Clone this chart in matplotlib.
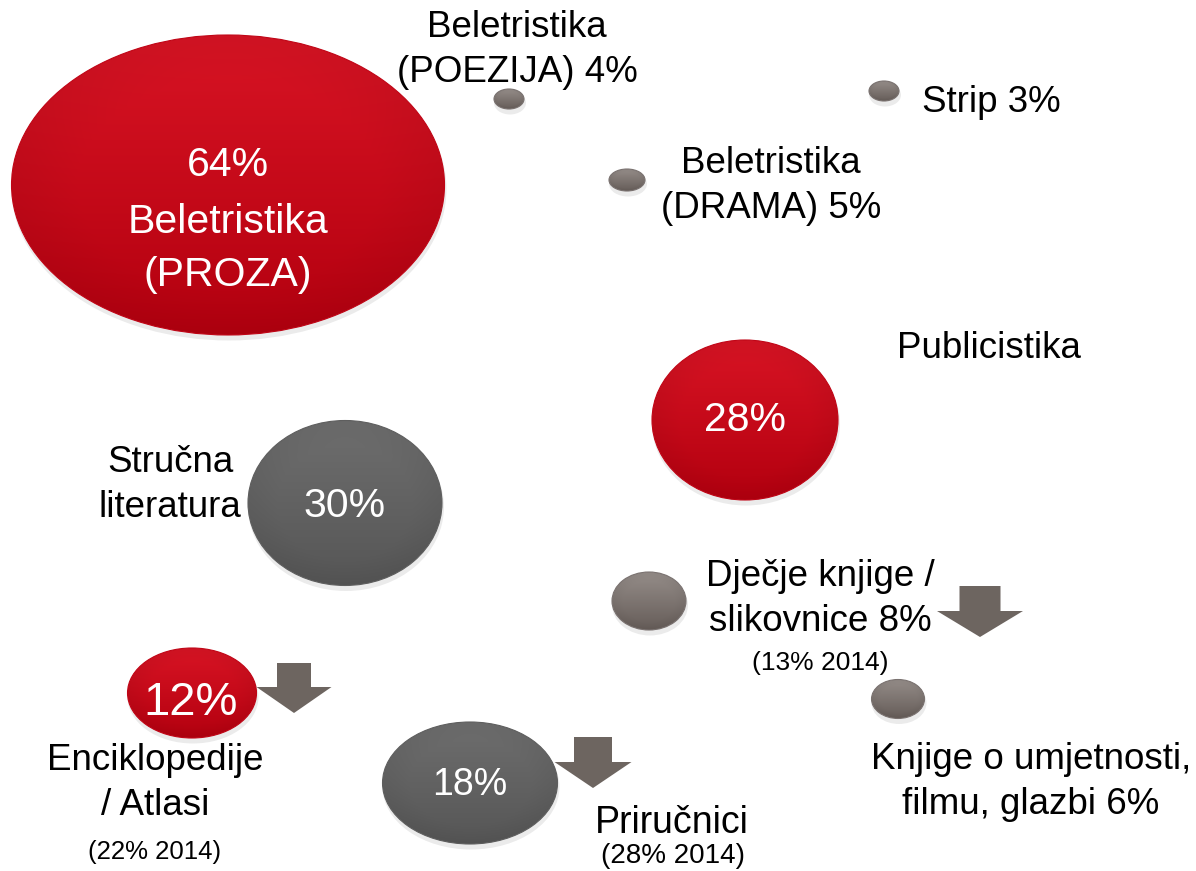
"""
Bubble chart: book categories (shares)
"""

import numpy as np
import matplotlib.pyplot as plt
from matplotlib.patches import Ellipse, Polygon
from matplotlib.colors import to_rgb

plt.rcParams["font.family"] = ["Liberation Sans", "DejaVu Sans"]

# data
categories = [
    "Beletristika (PROZA)",
    "Beletristika (POEZIJA)",
    "Strip",
    "Beletristika (DRAMA)",
    "Publicistika",
    "Stručna literatura",
    "Dječje knjige / slikovnice",
    "Knjige o umjetnosti, filmu, glazbi",
    "Enciklopedije / Atlasi",
    "Priručnici",
]
share_2015 = [64, 4, 3, 5, 28, 30, 8, 6, 12, 18]
share_2014 = {"Dječje knjige / slikovnice": 13, "Enciklopedije / Atlasi": 22, "Priručnici": 28}
kind = ["red", "small", "small", "small", "red", "gray", "small", "small", "red", "gray"]

# layout (pixel space), one entry per category
centers = [(228, 185), (509, 99), (884, 91), (627, 180), (745, 420),
           (345, 503), (649, 601), (898, 699), (192, 693), (470, 783)]
sizes = [(433, 300), (30, 20), (30, 20), (36, 22), (186, 160),
         (194, 165), (74, 58), (53, 39), (129, 90), (175, 122)]

palette = {
    "red": ("#d81424", "#b3000f", "#c00516"),
    "gray": ("#6e6e6e", "#565656", "#5e5e5e"),
    "small": ("#958d89", "#665d59", "#7a7270"),
}


def gradient_ellipse(ax, cx, cy, w, h, style):
    top, bottom, mid = (np.array(to_rgb(c)) for c in palette[style])
    n = 200
    yy, xx = np.mgrid[0:1:n * 1j, -1:1:n * 1j]
    t = yy[..., None]
    img = top * (1 - t) + bottom * t
    # darker toward the rim
    r = np.sqrt(xx ** 2 + (2 * yy - 1) ** 2)[..., None]
    img = img * (1 - 0.15 * np.clip(r - 0.7, 0, 1))
    img = np.clip(img, 0, 1)

    # soft shadow
    ax.add_patch(Ellipse((cx + 1, cy + 4), w + 2, h + 3, facecolor="#000000",
                         alpha=0.08, edgecolor="none", zorder=1))
    e = Ellipse((cx, cy), w, h, facecolor="none", edgecolor=mid, lw=0.8, zorder=3)
    ax.add_patch(e)
    im = ax.imshow(img, extent=(cx - w / 2, cx + w / 2, cy + h / 2, cy - h / 2),
                   origin="upper", zorder=2, interpolation="bilinear")
    im.set_clip_path(e)


def down_arrow(ax, cx, top, w, h, shaft_w, head_h):
    pts = [
        (cx - shaft_w / 2, top), (cx + shaft_w / 2, top),
        (cx + shaft_w / 2, top + h - head_h), (cx + w / 2, top + h - head_h),
        (cx, top + h), (cx - w / 2, top + h - head_h),
        (cx - shaft_w / 2, top + h - head_h),
    ]
    ax.add_patch(Polygon(pts, closed=True, facecolor="#6d6560", edgecolor="none", zorder=4))


fig = plt.figure(figsize=(11.96, 8.71), dpi=100)
ax = fig.add_axes([0, 0, 1, 1])
ax.set_xlim(0, 1196)
ax.set_ylim(871, 0)
ax.axis("off")

for (cx, cy), (w, h), k in zip(centers, sizes, kind):
    gradient_ellipse(ax, cx, cy, w, h, k)

fs = 26.5
ls = 1.36
val = dict(zip(categories, share_2015))
txt = dict(ha="center", va="center", zorder=5)

# labels inside bubbles
ax.text(228, 165, f"{val['Beletristika (PROZA)']}%", color="white", fontsize=29.5, **txt)
ax.text(228, 222, "Beletristika", color="white", fontsize=29.5, **txt)
ax.text(228, 275, "(PROZA)", color="white", fontsize=29.5, **txt)
ax.text(745, 420, f"{val['Publicistika']}%", color="white", fontsize=29.5, **txt)
ax.text(345, 506, f"{val['Stručna literatura']}%", color="white", fontsize=29.5, **txt)
ax.text(191, 703, f"{val['Enciklopedije / Atlasi']}%", color="white", fontsize=34, **txt)
ax.text(470, 785, f"{val['Priručnici']}%", color="white", fontsize=27, **txt)

# labels beside bubbles
ax.text(517, 50, f"Beletristika\n(POEZIJA) {val['Beletristika (POEZIJA)']}%",
        fontsize=fs, linespacing=ls, **txt)
ax.text(922, 102, f"Strip {val['Strip']}%", fontsize=fs, ha="left", va="center", zorder=5)
ax.text(771, 186, f"Beletristika\n(DRAMA) {val['Beletristika (DRAMA)']}%",
        fontsize=fs, linespacing=ls, **txt)
ax.text(989, 348, "Publicistika", fontsize=fs, **txt)
ax.text(170, 485, "Stručna\nliteratura", fontsize=fs, linespacing=ls, **txt)
ax.text(820, 599, f"Dječje knjige /\nslikovnice {val['Dječje knjige / slikovnice']}%",
        fontsize=fs, linespacing=ls, **txt)
ax.text(820, 663, f"({share_2014['Dječje knjige / slikovnice']}% 2014)", fontsize=19, **txt)
ax.text(1031, 782, f"Knjige o umjetnosti,\nfilmu, glazbi {val['Knjige o umjetnosti, filmu, glazbi']}%",
        fontsize=fs, linespacing=ls, **txt)
ax.text(155, 783, "Enciklopedije\n/ Atlasi", fontsize=fs, linespacing=ls, **txt)
ax.text(155, 852, f"({share_2014['Enciklopedije / Atlasi']}% 2014)", fontsize=18.5, **txt)
ax.text(672, 823, "Priručnici", fontsize=27, **txt)
ax.text(673, 856, f"({share_2014['Priručnici']}% 2014)", fontsize=20, **txt)

# decline arrows
down_arrow(ax, 980, 586, 86, 51, 41, 26)
down_arrow(ax, 294, 663, 75, 50, 34, 26)
down_arrow(ax, 593, 737, 77, 51, 38, 26)

fig.savefig("out.png", dpi=100)
